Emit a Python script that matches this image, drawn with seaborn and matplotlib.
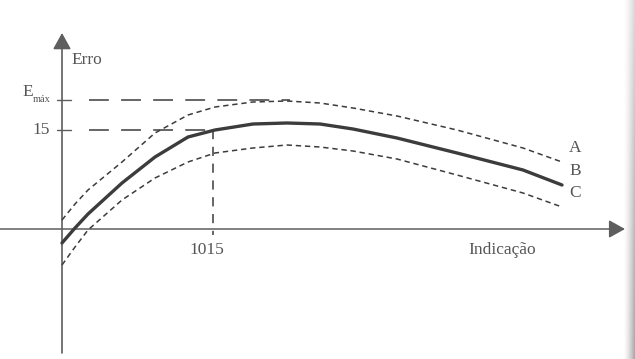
import numpy as np
import pandas as pd
import matplotlib.pyplot as plt
import seaborn as sns

# readings from the figure (x = indication, y = error, arbitrary units)
x_pts = [0, 13, 26, 60, 93, 126, 153, 191, 225, 258, 291, 335, 395, 461, 500]
curve_a = [9, 25, 39, 67, 96, 114, 122, 127, 128, 126, 121, 113, 99, 81, 67]
curve_b = [-14, 1, 15, 46, 72, 92, 99, 105, 106, 105, 100, 91, 76, 59, 44]
curve_c = [-36, -18, -1, 29, 51, 67, 76, 81, 84, 82, 78, 70, 54, 36, 22]
curve_names = ["A", "B", "C"]
x_1015 = 151
y_15 = 99
y_emax = 129

df = pd.DataFrame({
    "x": x_pts * 3,
    "y": curve_a + curve_b + curve_c,
    "curva": sum([[n] * len(x_pts) for n in curve_names], []),
})

sns.set_style("white")
plt.rcParams["font.family"] = ["Liberation Serif", "DejaVu Serif"]

fig = plt.figure(figsize=(6.35, 3.59), dpi=100)
ax = fig.add_axes([0, 0, 1, 1])
ax.set_xlim(-62, 573)
ax.set_ylim(-130, 229)
ax.axis("off")

ink = "#3c3c3c"
axis_c = "#5e5e5e"
txt = "#555555"

# curves
sns.lineplot(data=df[df.curva == "B"], x="x", y="y", color=ink, lw=2.4,
             ax=ax, legend=False, zorder=4)
for name in ["A", "C"]:
    sns.lineplot(data=df[df.curva == name], x="x", y="y", color=ink, lw=1.1,
                 linestyle=(0, (3.5, 2.5)), ax=ax, legend=False, zorder=4)

# reference dashed lines
dash = (0, (13, 8))
ax.plot([27, 228], [y_emax, y_emax], color=ink, lw=1.1, linestyle=dash)
ax.plot([27, x_1015], [y_15, y_15], color=ink, lw=1.1, linestyle=dash)
ax.plot([x_1015, x_1015], [y_15, -6], color=ink, lw=1.1,
        linestyle=(0, (6, 5)))
for yy in [y_emax, y_15]:
    ax.plot([-5, 9], [yy, yy], color=axis_c, lw=1.0)

# axes with arrows
ax.annotate("", xy=(0, 196), xytext=(0, -124),
            arrowprops=dict(arrowstyle="-|>,head_length=0.45,head_width=0.25",
                            color=axis_c, lw=1.2, mutation_scale=22,
                            shrinkA=0, shrinkB=0))
ax.annotate("", xy=(563, 0), xytext=(-62, 0),
            arrowprops=dict(arrowstyle="-|>,head_length=0.45,head_width=0.25",
                            color=axis_c, lw=1.1, mutation_scale=22,
                            shrinkA=0, shrinkB=0))

# texts
ax.text(9, 169, "Erro", color=txt, fontsize=12.5, ha="left", va="center")
ax.text(-12, y_15, "15", color=txt, fontsize=12.5, ha="right", va="center")
ax.text(-29, 137, "E", color=txt, fontsize=12.5, ha="right", va="center")
ax.text(-29, 130, "máx", color=txt, fontsize=7.5, ha="left", va="center")
ax.text(x_1015 - 6, -21, "1015", color=txt, fontsize=12.5, ha="center",
        va="center")
ax.text(440, -21, "Indicação", color=txt, fontsize=12.5, ha="center",
        va="center")
for name, yy in zip(curve_names, [81, 58, 36]):
    ax.text(513, yy, name, color=txt, fontsize=12.5, ha="center", va="center")

# scan shadow at the right edge
grad = np.linspace(0, 1, 30) ** 1.5
shade = np.tile(grad, (60, 1)) * np.linspace(0.45, 1, 60)[:, None]
ax.imshow(1 - 0.35 * shade, cmap="gray", vmin=0, vmax=1, aspect="auto",
          extent=(561, 573, -130, 229), origin="upper", zorder=0)

fig.savefig("out.png", dpi=100)
